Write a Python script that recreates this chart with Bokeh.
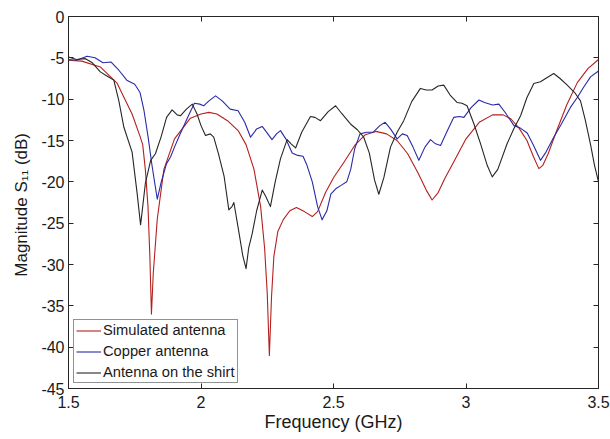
from bokeh.plotting import figure
from bokeh.models import Range1d, FixedTicker, LinearAxis, Legend, LegendItem
from bokeh.embed import file_html
from bokeh.resources import INLINE

# ---------------- data ----------------
freq_sim = [1.50, 1.55, 1.62, 1.684, 1.72, 1.74, 1.77, 1.78, 1.79, 1.80, 1.807, 1.813, 1.82,
            1.835, 1.86, 1.90, 1.96, 2.00, 2.03, 2.06, 2.10, 2.14, 2.17, 2.20, 2.225, 2.24,
            2.25, 2.258, 2.266, 2.275, 2.29, 2.31, 2.335, 2.36, 2.39, 2.42, 2.44, 2.47, 2.50,
            2.54, 2.58, 2.62, 2.66, 2.70, 2.74, 2.78, 2.82, 2.85, 2.872, 2.895, 2.92, 2.95,
            3.00, 3.05, 3.10, 3.14, 3.17, 3.20, 3.23, 3.255, 3.275, 3.29, 3.31, 3.34, 3.38,
            3.42, 3.46, 3.50]
s11_sim = [-5.3, -5.4, -6.1, -8.1, -10.5, -11.8, -14.5, -15.5, -18.5, -23.0, -29.0, -36.0, -31.0,
           -24.5, -18.5, -14.8, -12.3, -11.8, -11.6, -11.8, -12.6, -13.8, -15.5, -18.5, -23.0, -28.0,
           -33.5, -41.0, -34.0, -29.0, -26.0, -24.6, -23.5, -23.1, -23.6, -24.2, -23.6, -21.3, -19.5,
           -17.6, -15.6, -14.3, -13.9, -14.2, -15.0, -16.6, -19.0, -21.0, -22.2, -21.3, -19.6, -17.8,
           -14.8, -12.8, -11.9, -11.9, -12.4, -13.5, -15.0, -17.0, -18.4, -18.0, -16.6, -14.0, -10.7,
           -8.0, -6.3, -5.2]

freq_cu = [1.50, 1.53, 1.57, 1.60, 1.63, 1.66, 1.69, 1.72, 1.75, 1.77, 1.785, 1.80, 1.815, 1.835,
           1.85, 1.87, 1.885, 1.90, 1.92, 1.95, 1.975, 1.995, 2.01, 2.03, 2.055, 2.08, 2.11, 2.14,
           2.165, 2.187, 2.21, 2.231, 2.25, 2.268, 2.285, 2.30, 2.32, 2.344, 2.365, 2.385, 2.40,
           2.42, 2.44, 2.457, 2.475, 2.49, 2.51, 2.53, 2.55, 2.565, 2.58, 2.60, 2.625, 2.65, 2.675,
           2.695, 2.715, 2.74, 2.76, 2.778, 2.80, 2.822, 2.845, 2.866, 2.885, 2.904, 2.93, 2.954,
           2.975, 2.992, 3.02, 3.049, 3.07, 3.10, 3.124, 3.15, 3.181, 3.205, 3.231, 3.255, 3.281,
           3.30, 3.331, 3.36, 3.394, 3.42, 3.445, 3.47, 3.50]
s11_cu = [-5.2, -5.3, -4.8, -5.0, -5.6, -5.5, -6.5, -7.7, -8.2, -9.2, -11.4, -14.5, -18.0, -22.1,
          -20.0, -17.8, -17.0, -15.8, -14.3, -12.2, -10.5, -10.6, -10.8, -10.2, -9.6, -10.2, -11.2, -11.4,
          -12.8, -14.6, -13.6, -13.3, -14.1, -14.9, -14.2, -13.8, -14.8, -16.5, -16.8, -16.9, -18.0,
          -20.0, -23.0, -24.6, -23.5, -21.5, -20.8, -20.4, -20.0, -18.5, -16.0, -14.2, -14.0, -14.0, -13.2,
          -12.8, -13.6, -14.8, -14.2, -14.4, -15.8, -17.4, -15.8, -14.9, -15.4, -15.6, -13.8, -12.2,
          -12.1, -12.2, -11.0, -10.1, -10.4, -10.7, -10.6, -11.7, -13.2, -13.5, -14.1, -15.6, -17.4,
          -16.5, -14.6, -13.0, -11.0, -9.8, -8.5, -7.3, -6.6]

freq_shirt = [1.50, 1.53, 1.564, 1.59, 1.62, 1.645, 1.671, 1.69, 1.709, 1.74, 1.759, 1.772, 1.78,
              1.79, 1.81, 1.828, 1.85, 1.87, 1.891, 1.91, 1.923, 1.945, 1.967, 1.985, 2.00, 2.017,
              2.035, 2.048, 2.065, 2.087, 2.105, 2.117, 2.124, 2.14, 2.158, 2.17, 2.18, 2.193, 2.21,
              2.231, 2.245, 2.262, 2.28, 2.30, 2.325, 2.34, 2.357, 2.38, 2.413, 2.43, 2.451, 2.48,
              2.508, 2.53, 2.564, 2.59, 2.614, 2.635, 2.655, 2.671, 2.69, 2.715, 2.74, 2.765, 2.795,
              2.828, 2.85, 2.872, 2.895, 2.916, 2.94, 2.966, 2.985, 3.004, 3.03, 3.055, 3.08, 3.099,
              3.12, 3.155, 3.18, 3.206, 3.23, 3.256, 3.281, 3.305, 3.331, 3.355, 3.382, 3.41, 3.432,
              3.45, 3.47, 3.485, 3.50]
s11_shirt = [-4.9, -5.2, -5.1, -5.6, -6.7, -7.2, -7.7, -10.2, -13.4, -16.4, -21.4, -25.2, -23.0,
             -20.2, -17.4, -16.6, -14.5, -12.2, -11.3, -11.9, -12.0, -11.2, -10.6, -11.8, -13.2, -14.4,
             -14.2, -14.6, -16.5, -19.3, -23.4, -23.0, -22.5, -25.5, -29.0, -30.5, -28.0, -26.3, -23.5,
             -21.0, -21.8, -23.0, -20.0, -17.2, -14.9, -15.4, -15.9, -14.0, -12.1, -12.2, -12.6, -11.5,
             -10.8, -11.7, -13.0, -13.7, -14.6, -16.5, -19.8, -21.5, -19.5, -15.8, -14.0, -12.6, -10.3,
             -8.7, -8.9, -8.9, -8.4, -8.3, -9.5, -10.4, -10.5, -10.8, -13.0, -15.4, -18.0, -19.4,
             -18.5, -15.4, -13.6, -12.0, -9.8, -8.1, -7.9, -7.4, -6.9, -7.5, -8.3, -9.2, -10.2,
             -12.5, -15.5, -18.0, -20.0]

series_names = ["Simulated antenna", "Copper antenna", "Antenna on the shirt"]
x_ticks = [1.5, 2.0, 2.5, 3.0, 3.5]
x_tick_labels = ["1.5", "2", "2.5", "3", "3.5"]
y_ticks = [0, -5, -10, -15, -20, -25, -30, -35, -40, -45]
y_tick_labels = ["0", "-5", "-10", "-15", "-20", "-25", "-30", "-35", "-40", "-45"]
x_title = "Frequency (GHz)"
y_title = "Magnitude S\u2081\u2081  (dB)"

# ---------------- styling ----------------
FONT = "Liberation Sans"
AX = "#262626"
colors = ["#B3201E", "#2A2AA8", "#262626"]

p = figure(width=610, height=439, output_backend="svg", toolbar_location=None,
           x_range=Range1d(1.5, 3.5), y_range=Range1d(-45, 0),
           min_border_left=68, min_border_right=12, min_border_top=16, min_border_bottom=51)
p.background_fill_color = "white"
p.border_fill_color = "white"
p.outline_line_color = AX
p.xgrid.visible = False
p.ygrid.visible = False

def style_axis(ax, ticks, labels, show_labels=True):
    ax.ticker = FixedTicker(ticks=ticks)
    ax.major_tick_in = 5
    ax.major_tick_out = 0
    ax.minor_tick_line_color = None
    ax.axis_line_color = AX
    ax.major_tick_line_color = AX
    if show_labels:
        ax.major_label_overrides = {t: l for t, l in zip(ticks, labels)}
        ax.major_label_text_font = FONT
        ax.major_label_text_color = "#1a1a1a"
        ax.axis_label_text_font = FONT
        ax.axis_label_text_font_style = "normal"
        ax.axis_label_text_color = "#1a1a1a"
        ax.major_label_text_font_size = "16px"
        ax.axis_label_text_font_size = "18px"
    else:
        ax.major_label_text_color = None
        ax.major_label_standoff = 0

xa = p.xaxis[0]
ya = p.yaxis[0]
style_axis(xa, x_ticks, x_tick_labels)
style_axis(ya, y_ticks, y_tick_labels)
xa.axis_label = x_title
ya.axis_label = y_title
ya.axis_label_text_font_size = "17px"
xa.major_label_standoff = 7
xa.axis_label_standoff = 1
ya.major_label_standoff = 4
ya.axis_label_standoff = 7

top = LinearAxis()
right = LinearAxis()
style_axis(top, x_ticks, x_tick_labels, show_labels=False)
style_axis(right, y_ticks, y_tick_labels, show_labels=False)
p.add_layout(top, "above")
p.add_layout(right, "right")

renderers = []
for fx, fy, c in [(freq_sim, s11_sim, colors[0]), (freq_cu, s11_cu, colors[1]),
                  (freq_shirt, s11_shirt, colors[2])]:
    r = p.line(fx, fy, line_color=c, line_width=1.1, line_join="round")
    renderers.append(r)

legend = Legend(items=[LegendItem(label=n, renderers=[r]) for n, r in zip(series_names, renderers)],
                location="bottom_left", margin=5, padding=2, spacing=5,
                glyph_width=25, glyph_height=15, label_height=15, label_width=132,
                label_standoff=2, label_text_font=FONT, label_text_font_size="14.7px",
                label_text_color="#1a1a1a", border_line_color=AX, border_line_width=1,
                background_fill_color="white", background_fill_alpha=1.0)
p.add_layout(legend, "center")

open("out.html", "w").write(file_html(p, INLINE))
